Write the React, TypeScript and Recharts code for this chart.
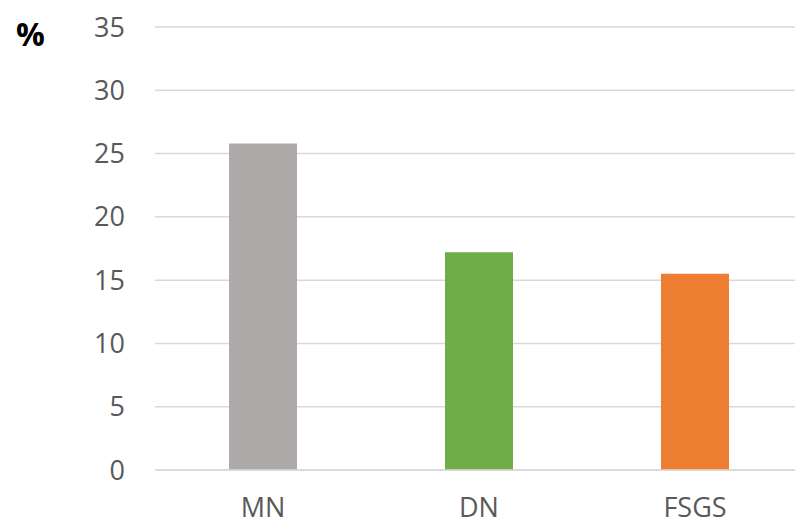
import { BarChart, Bar, XAxis, YAxis, CartesianGrid, Cell } from 'recharts';

const categories = ['MN', 'DN', 'FSGS'];
const percentages = [25.8, 17.2, 15.5];
const barColors = ['#AEAAAA', '#70AD47', '#ED7D31'];
const yTicks = [0, 5, 10, 15, 20, 25, 30, 35];

const data = categories.map((name, i) => ({ name, value: percentages[i] }));

const tickStyle = { fill: '#595959', fontSize: 27, fontFamily: '"Open Sans", sans-serif' };

export default function App() {
  return (
    <div
      style={{
        position: 'absolute',
        left: 0,
        top: 0,
        width: 795,
        height: 524,
        overflow: 'hidden',
        background: '#fff',
      }}
    >
      <div
        style={{
          position: 'absolute',
          left: 16,
          top: 12,
          fontFamily: '"Open Sans", sans-serif',
          fontWeight: 700,
          fontSize: 32,
          color: '#000',
        }}
      >
        %
      </div>
      <BarChart
        width={803}
        height={524}
        data={data}
        margin={{ top: 27, right: 0, bottom: 0, left: 0 }}
        barSize={68}
      >
        <CartesianGrid vertical={false} stroke="#D9D9D9" strokeWidth={1.5} />
        <XAxis
          dataKey="name"
          height={54}
          tickLine={false}
          axisLine={{ stroke: '#D9D9D9', strokeWidth: 1.5 }}
          tick={tickStyle}
          tickMargin={22}
        />
        <YAxis
          width={155}
          domain={[0, 35]}
          ticks={yTicks}
          axisLine={false}
          tickLine={false}
          tickSize={0}
          tickMargin={30}
          tick={tickStyle}
        />
        <Bar dataKey="value" isAnimationActive={false}>
          {data.map((d, i) => (
            <Cell key={d.name} fill={barColors[i]} />
          ))}
        </Bar>
      </BarChart>
    </div>
  );
}
